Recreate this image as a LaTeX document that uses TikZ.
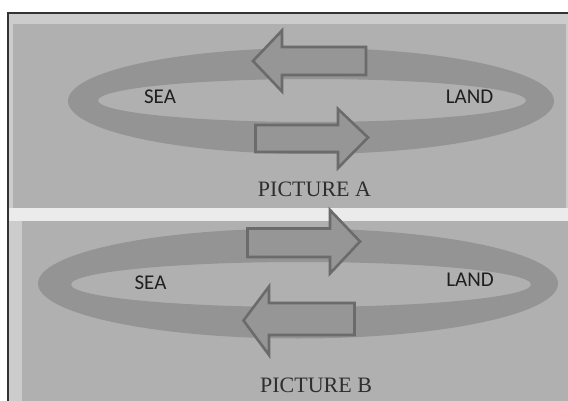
\documentclass[tikz,border=0pt]{standalone}
\usepackage{fontspec}
\setmainfont{Liberation Serif}
\newfontfamily\labfont{Carlito}
\begin{document}
\begin{tikzpicture}[x=1pt,y=-1pt,
  framecol/.style={fill=black!20},
  panel/.style={fill=black!31},
  ring/.style={fill=black!42, even odd rule},
  bigarrow/.style={fill=black!41, draw=black!58, line width=2.6pt, line join=miter},
  place/.style={font=\labfont\fontsize{21}{24}\selectfont, text=black!88, inner sep=0pt},
  caption/.style={font=\fontsize{22}{26}\selectfont, text=black!82, inner sep=0pt}]
\useasboundingbox (0,0) rectangle (568,401);
\fill[white] (0,0) rectangle (568,401);
% photo frame
\fill[framecol] (8,13) rectangle (568,401);
\fill[black!8] (8,208) rectangle (568,221);
\fill[panel] (13,24) rectangle (566,208);
\fill[panel] (22,221) rectangle (568,401);
\draw[black!80, line width=1.6pt] (8,401) -- (8,13) -- (568,13);
% ---- Picture A
\fill[ring] (311,101) ellipse [x radius=243, y radius=53]
            (312,100.5) ellipse [x radius=214, y radius=21.5];
\draw[bigarrow] (366,47) -- (282,47) -- (282,30.5) -- (253,61) -- (282,91.5) -- (282,75) -- (366,75) -- cycle;
\draw[bigarrow] (255.5,125) -- (338,125) -- (338,109) -- (368,137.5) -- (338,168) -- (338,152) -- (255.5,152) -- cycle;
\node[place] (seaA) at (160,97) {SEA};
\node[place] (landA) at (469.5,97) {LAND};
\node[caption] (capA) at (314.5,189) {PICTURE A};
% ---- Picture B
\fill[ring] (298,283.5) ellipse [x radius=260, y radius=55]
            (301,284.5) ellipse [x radius=230, y radius=22.5];
\draw[bigarrow] (247.5,228.5) -- (330,228.5) -- (330,210) -- (360,241.5) -- (330,273.5) -- (330,257) -- (247.5,257) -- cycle;
\draw[bigarrow] (354.5,303) -- (269,303) -- (269,286.5) -- (243.5,320.5) -- (269,355) -- (269,335) -- (354.5,335) -- cycle;
\node[place] (seaB) at (150.5,282.5) {SEA};
\node[place] (landB) at (470,279.5) {LAND};
\node[caption] (capB) at (316,385) {PICTURE B};
\end{tikzpicture}
\end{document}
